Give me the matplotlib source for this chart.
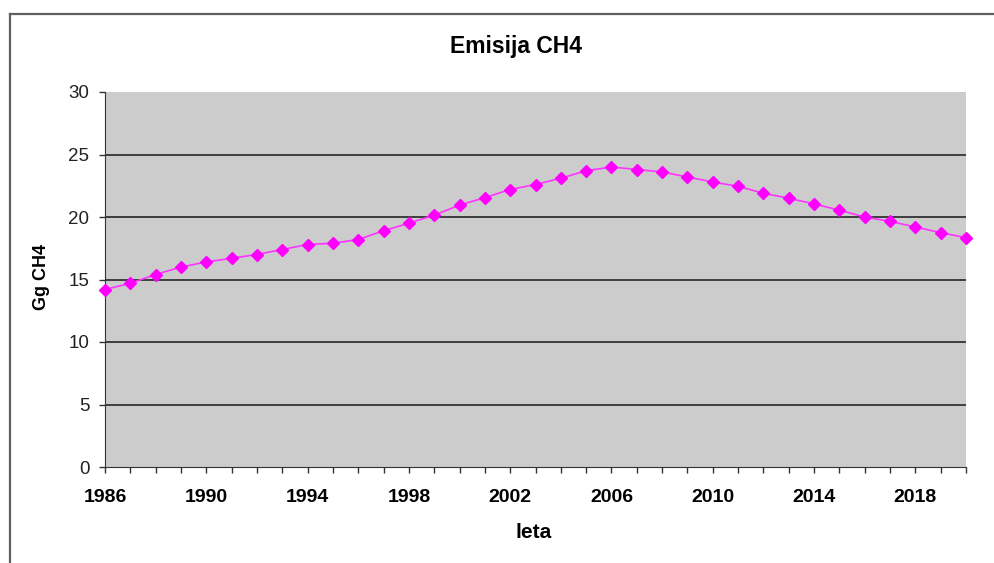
import matplotlib
matplotlib.use("Agg")
import matplotlib.pyplot as plt
from matplotlib.lines import Line2D
from matplotlib.ticker import MultipleLocator

years = list(range(1986, 2021))
emissions = [14.2, 14.7, 15.4, 16.0, 16.4, 16.7, 17.0, 17.4, 17.8, 17.9,
             18.2, 18.9, 19.5, 20.15, 20.95, 21.55, 22.2, 22.6, 23.1, 23.7,
             24.0, 23.8, 23.6, 23.2, 22.8, 22.45, 21.9, 21.5, 21.05, 20.55,
             20.0, 19.65, 19.2, 18.75, 18.35]
x_labels = [1986, 1990, 1994, 1998, 2002, 2006, 2010, 2014, 2018]
y_ticks = [0, 5, 10, 15, 20, 25, 30]

plt.rcParams['font.family'] = ['Liberation Sans', 'DejaVu Sans']

W, H = 995, 563
fig = plt.figure(figsize=(W/100, H/100), dpi=100)
fig.patch.set_facecolor('white')
ax = fig.add_axes([105/W, 1-467/H, (966-105)/W, (467-92)/H])
ax.set_facecolor('#CCCCCC')

ax.plot(years, emissions, color='#FF33FF', lw=1.2, marker='D', ms=5.8,
        markerfacecolor='#FF00FF', markeredgecolor='#FF00FF', zorder=3, clip_on=False)

ax.set_xlim(1986, 2020)
ax.set_ylim(0, 30)
ax.set_yticks(y_ticks)
ax.set_xticks(x_labels)
ax.set_xticklabels([str(v) for v in x_labels], fontweight='bold', fontsize=14)
ax.xaxis.set_minor_locator(MultipleLocator(1))
ax.tick_params(axis='x', which='major', direction='out', length=4.3, width=1,
               color='#333333', pad=11.5)
ax.tick_params(axis='x', which='minor', direction='out', length=4.3, width=1,
               color='#333333')
ax.tick_params(axis='y', direction='out', length=4.3, width=1, labelsize=13.5,
               pad=7, color='#333333', labelcolor='#222222')

for v in y_ticks[1:-1]:
    ax.axhline(v, color='#333333', lw=1.3, zorder=1)

for s in ['top', 'right']:
    ax.spines[s].set_visible(False)
ax.spines['left'].set_color('#333333')
ax.spines['bottom'].set_color('#333333')

fig.text(516/W, 1-46.5/H, 'Emisija CH4', fontweight='bold', fontsize=16.5,
         ha='center', va='center')
fig.text(534/W, 1-533/H, 'leta', fontweight='bold', fontsize=15,
         ha='center', va='center')
fig.text(42/W, 1-277/H, 'Gg CH4', fontweight='bold', fontsize=13,
         ha='center', va='center', rotation=90)

fig.add_artist(Line2D([9.5/W, 1], [1-14/H, 1-14/H], color='#606060', lw=1.6,
                      transform=fig.transFigure))
fig.add_artist(Line2D([9.5/W, 9.5/W], [0, 1-14/H], color='#606060', lw=1.6,
                      transform=fig.transFigure))

fig.savefig('out.png', dpi=100)
